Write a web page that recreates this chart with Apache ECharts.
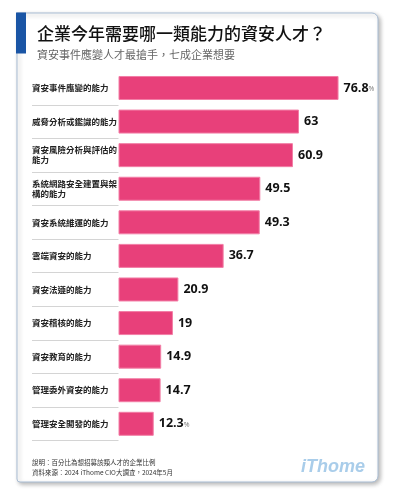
<!DOCTYPE html>
<html>
<head>
<meta charset="utf-8">
<script src="https://cdn.jsdelivr.net/npm/echarts@6/dist/echarts.min.js"></script>
<style>
html,body{margin:0;padding:0;background:#fff;}
#chart{width:396px;height:497px;}
</style>
</head>
<body>
<div id="chart"></div>
<script>
const titleText = '企業今年需要哪一類能力的資安人才？';
const subtitleText = '資安事件應變人才最搶手，七成企業想要';
const categories = [
  '資安事件應變的能力',
  '威脅分析或鑑識的能力',
  '資安風險分析與評估的\n能力',
  '系統網路安全建置與架\n構的能力',
  '資安系統維運的能力',
  '雲端資安的能力',
  '資安法遵的能力',
  '資安稽核的能力',
  '資安教育的能力',
  '管理委外資安的能力',
  '管理安全開發的能力'
];
const values = [76.8, 63, 60.9, 49.5, 49.3, 36.7, 20.9, 19, 14.9, 14.7, 12.3];
const noteLines = [
  '說明：百分比為想招募該類人才的企業比例',
  '資料來源：2024 iThome CIO大調查，2024年5月'
];
const brandText = 'iThome';

const chart = echarts.init(document.getElementById('chart'), null, {renderer: 'canvas'});
const lastIdx = values.length - 1;
const option = {
  backgroundColor: '#ffffff',
  animation: false,
  title: [
    {text: titleText, left: 32, top: 20,
     textStyle: {fontFamily: 'Noto Sans CJK TC', fontSize: 17, fontWeight: 500, color: '#111'}},
    {text: subtitleText, left: 32, top: 44,
     textStyle: {fontFamily: 'Noto Sans CJK TC', fontSize: 11, fontWeight: 'normal', color: '#666'}}
  ],
  graphic: [
    {type: 'rect', z: -10, silent: true,
     shape: {x: 17, y: 13, width: 361, height: 469, r: [0, 6, 6, 3]},
     style: {fill: '#fff', stroke: '#a9bdd4', lineWidth: 1,
             shadowBlur: 4, shadowOffsetX: 2, shadowOffsetY: 2, shadowColor: 'rgba(0,0,0,0.28)'}},
    {type: 'rect', z: -9, silent: true,
     shape: {x: 16, y: 12.5, width: 10, height: 41},
     style: {fill: '#1a55a5'}},
    {type: 'text', left: 32, top: 459,
     style: {text: noteLines[0], fontFamily: 'Noto Sans CJK TC', fontSize: 6.5, fill: '#333'}},
    {type: 'text', left: 32, top: 469,
     style: {text: noteLines[1], fontFamily: 'Noto Sans CJK TC', fontSize: 6.5, fill: '#333'}},
    {type: 'text', left: 301, top: 458,
     style: {text: brandText, fontFamily: 'Liberation Sans', fontSize: 18, fontWeight: 'bold', fontStyle: 'italic', fill: '#a9cdea'}}
  ],
  grid: {left: 118.5, right: 19.65, top: 71.2, bottom: 56.4, containLabel: false},
  xAxis: {type: 'value', min: 0, max: 90, show: false},
  yAxis: {
    type: 'category', data: categories, inverse: true,
    axisLine: {show: false},
    axisTick: {show: true, length: 86.5, lineStyle: {color: '#d4d4d4', width: 1},
               interval: function (idx) { return idx !== 0; }},
    axisLabel: {align: 'left', margin: 86.5, fontFamily: 'Noto Sans CJK TC', fontSize: 8.5,
                fontWeight: 'bold', color: '#222', lineHeight: 10, interval: 0}
  },
  series: [{
    type: 'bar', data: values, barWidth: 24,
    itemStyle: {color: '#e8407a', borderColor: '#f27ea6', borderWidth: 1},
    label: {
      show: true, position: 'right', distance: 5,
      formatter: function (p) {
        return (p.dataIndex === 0 || p.dataIndex === lastIdx) ? '{v|' + p.value + '}{p|%}' : '{v|' + p.value + '}';
      },
      rich: {
        v: {fontFamily: 'Open Sans', fontWeight: 'bold', fontSize: 12.5, color: '#111'},
        p: {fontFamily: 'Open Sans', fontSize: 7, color: '#777', padding: [3, 0, 0, 0]}
      }
    }
  }]
};
chart.setOption(option);
</script>
</body>
</html>
